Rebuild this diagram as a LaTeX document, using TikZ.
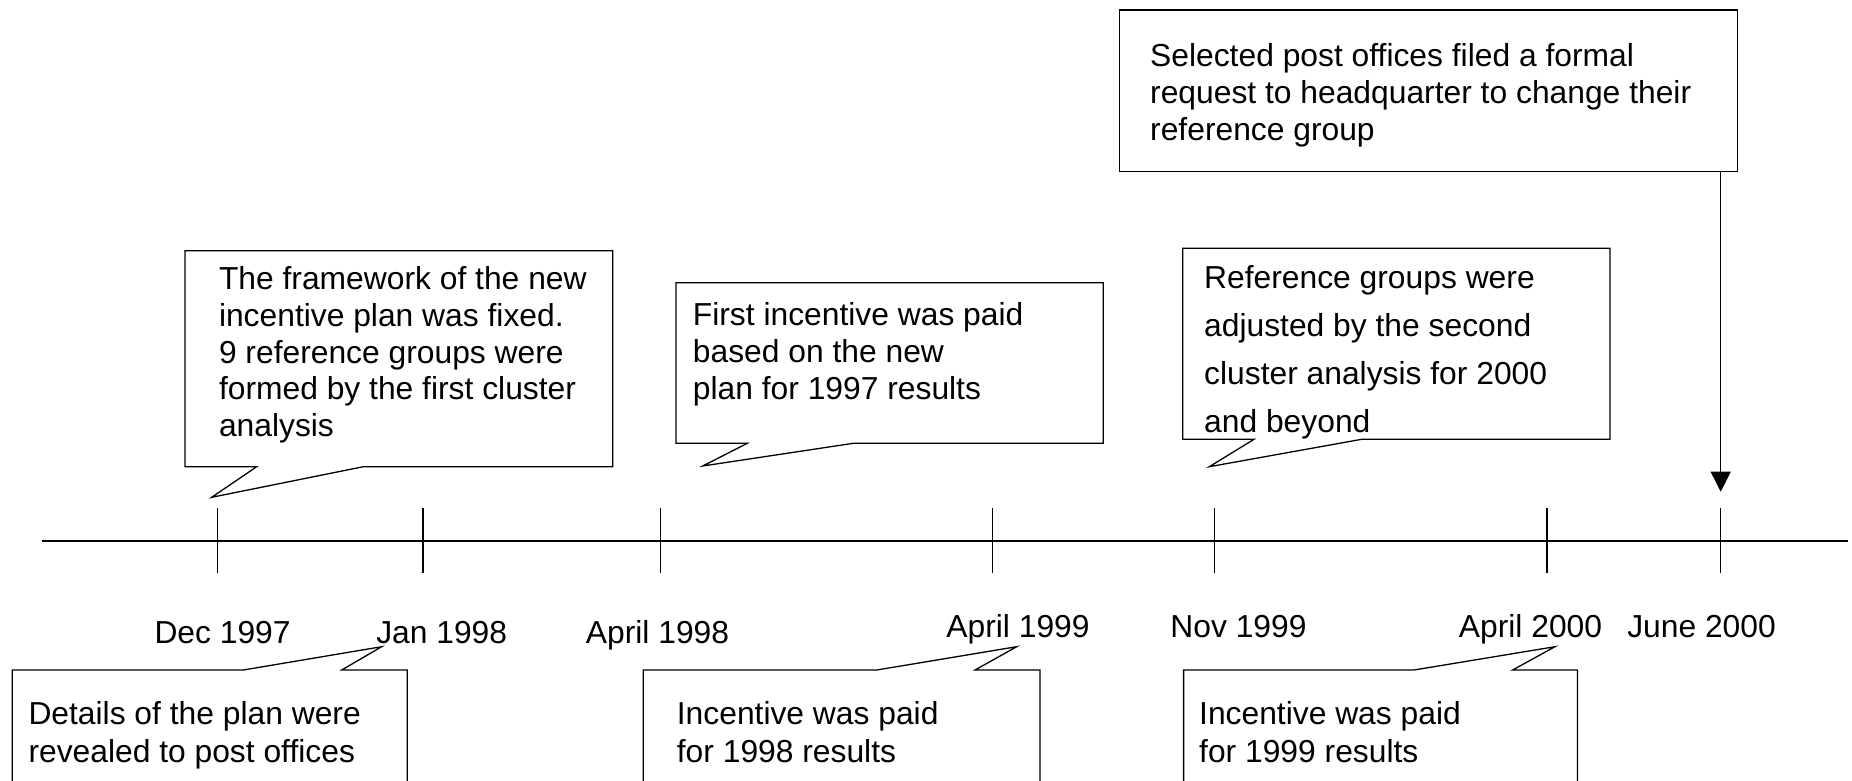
\documentclass[tikz,border=0pt]{standalone}
\usepackage{fontspec}
\setmainfont{Liberation Sans}
\usetikzlibrary{arrows.meta}
\newcommand\tlrule{\rule{0pt}{25pt}}
\begin{document}
\begin{tikzpicture}[x=1pt,y=-1pt,line join=miter,
  box/.style={draw=black,line width=1.3pt},
  axis/.style={draw=black,line width=1.5pt},
  txt/.style={inner sep=0pt,anchor=north west,align=left,font=\fontsize{31.8}{#1}\selectfont},
  txt/.default=36.8,
  datelbl/.style={inner sep=0pt,anchor=base,font=\fontsize{31.8}{38}\selectfont}]
\useasboundingbox (0,0) rectangle (1852,781);

% timeline
\coordinate (lstart) at (42,541);
\coordinate (lend) at (1848,541);
\draw[axis] (lstart) -- (lend);
\foreach \n/\x in {dec/217.4,jan/422.8,aprA/660.5,aprB/992.5,nov/1214.5,aprC/1547,jun/1720.7}{
  \coordinate (\n-top) at (\x,508);
  \coordinate (\n-bot) at (\x,573);
  \draw[axis] (\n-top) -- (\n-bot);
}

% date labels
\node[datelbl] (ldec)  at (222.6,643.5) {Dec 1997};
\node[datelbl] (ljan)  at (441.7,643.5) {Jan 1998};
\node[datelbl] (laprA) at (657.5,643.5) {April 1998};
\node[datelbl] (laprB) at (1018,637) {April 1999};
\node[datelbl] (lnov)  at (1238.5,637) {Nov 1999};
\node[datelbl] (laprC) at (1530.5,637) {April 2000};
\node[datelbl] (ljun)  at (1701.5,637) {June 2000};

% top callout 1 (Dec 1997)
\draw[box] (185,250.7) -- (612.7,250.7) -- (612.7,466.7) -- (363.3,466.7)
  -- (211.7,497.3) -- (256.7,466.7) -- (185,466.7) -- cycle;
\node[txt] (c1) at (218.8,264.3) {\tlrule The framework of the new\\incentive plan was fixed.\\9 reference groups were\\formed by the first cluster\\analysis};

% top callout 2 (April 1998)
\draw[box] (676,282.7) -- (1103.3,282.7) -- (1103.3,443.3) -- (853.3,443.3)
  -- (702.7,466) -- (747.3,443.3) -- (676,443.3) -- cycle;
\node[txt] (c2) at (692.7,300.5) {\tlrule First incentive was paid\\based on the new\\plan for 1997 results};

% top callout 3 (Nov 1999)
\draw[box] (1182.7,248.3) -- (1610,248.3) -- (1610,439.3) -- (1361.7,439.3)
  -- (1209.3,466.7) -- (1254,439.3) -- (1182.7,439.3) -- cycle;
\node[txt=48] (c3) at (1204,263) {\tlrule Reference groups were\\adjusted by the second\\cluster analysis for 2000\\and beyond};

% top box (June 2000)
\node[box,inner sep=0pt,anchor=north west,minimum width=618pt,minimum height=161.4pt] (selbox) at (1119,9.3) {};
\node[txt=37] (c7) at (1150,41.3) {\tlrule Selected post offices filed a formal\\request to headquarter to change their\\reference group};
\coordinate (jtip) at (1720.7,491.7);
\draw[box,-{Triangle[length=20pt,width=20pt]}] (selbox.south -| jun-top) -- (jtip);

% bottom callout 4 (Jan 1998)
\draw[box] (12.3,781) -- (12.3,670) -- (243.3,670) -- (381.7,646.7)
  -- (341.7,670) -- (407.3,670) -- (407.3,781);
\node[txt=38] (c4) at (28.3,699) {\tlrule Details of the plan were\\revealed to post offices};

% bottom callout 5 (April 1999)
\draw[box] (643.3,781) -- (643.3,670) -- (876.7,670) -- (1016.7,646.7)
  -- (975,670) -- (1040,670) -- (1040,781);
\node[txt=38] (c5) at (676.7,699) {\tlrule Incentive was paid\\for 1998 results};

% bottom callout 6 (April 2000)
\draw[box] (1183.6,781) -- (1183.6,670) -- (1414,670) -- (1555,646.7)
  -- (1512.6,670) -- (1577.5,670) -- (1577.5,781);
\node[txt=38] (c6) at (1199,699) {\tlrule Incentive was paid\\for 1999 results};
\end{tikzpicture}
\end{document}
